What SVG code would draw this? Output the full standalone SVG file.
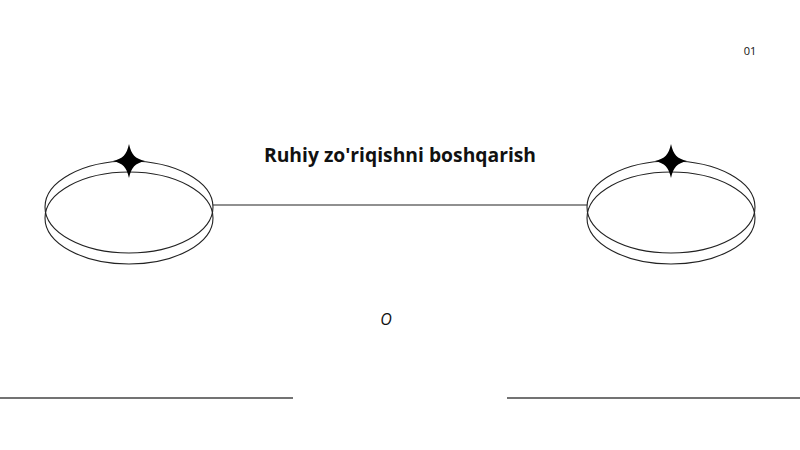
<svg xmlns="http://www.w3.org/2000/svg" width="800" height="450" viewBox="0 0 800 450">
<style>
.ring{fill:none;stroke:#222;stroke-width:1.1}
.star{fill:#000}
.conn{stroke:#222;stroke-width:1.2;fill:none}
.rule{stroke:#444;stroke-width:1.5}
text{font-family:"Open Sans","Noto Sans","Liberation Sans",sans-serif;fill:#111}
</style>
<defs>
<path id="spark" d="M0,-17 C2.5,-6 6,-2.5 16,0 C6,2.5 2.5,6 0,17 C-2.5,6 -6,2.5 -16,0 C-6,-2.5 -2.5,-6 0,-17 Z"/>
</defs>
<rect width="800" height="450" fill="#fff"/>
<g id="connectors">
<line class="conn" x1="213" y1="205" x2="587" y2="205"/>
</g>
<g id="node-left">
<ellipse class="ring" cx="129" cy="207" rx="84" ry="46"/>
<ellipse class="ring" cx="129" cy="218" rx="84" ry="46"/>
<use href="#spark" class="star" x="129" y="161"/>
</g>
<g id="node-right">
<ellipse class="ring" cx="671" cy="207" rx="84" ry="46"/>
<ellipse class="ring" cx="671" cy="218" rx="84" ry="46"/>
<use href="#spark" class="star" x="671" y="161"/>
</g>
<g id="title">
<text x="400" y="162" text-anchor="middle" font-size="19.3" font-weight="700">Ruhiy zo'riqishni boshqarish</text>
</g>
<g id="label-o">
<text x="386" y="325" text-anchor="middle" font-size="16" font-style="italic">O</text>
</g>
<g id="page-num">
<text x="750" y="55" text-anchor="middle" font-size="11">01</text>
</g>
<g id="rules">
<line class="rule" x1="0" y1="398" x2="293" y2="398"/>
<line class="rule" x1="507" y1="398" x2="800" y2="398"/>
</g>
</svg>
